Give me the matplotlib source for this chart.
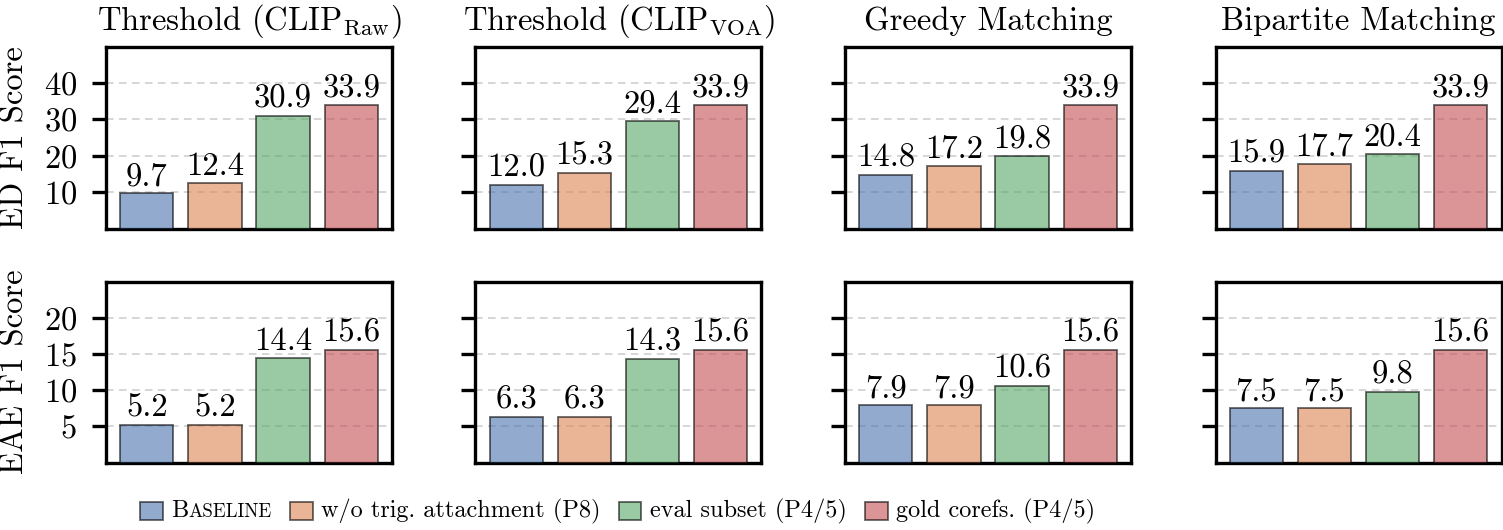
import numpy as np
import matplotlib
matplotlib.use("Agg")
import matplotlib.pyplot as plt
from matplotlib.offsetbox import HPacker, TextArea, DrawingArea, AnchoredOffsetbox
from matplotlib.patches import Rectangle

plt.rcParams['font.family'] = 'serif'
plt.rcParams['font.serif'] = ['cmr10', 'DejaVu Serif']
plt.rcParams['mathtext.fontset'] = 'cm'
plt.rcParams['axes.unicode_minus'] = False
plt.rcParams['axes.formatter.use_mathtext'] = True

# ---- data ----
methods = [r"Threshold (CLIP$_{\mathrm{Raw}}$)", r"Threshold (CLIP$_{\mathrm{VOA}}$)",
           "Greedy Matching", "Bipartite Matching"]
series = ["Baseline", "w/o trig. attachment (P8)", "eval subset (P4/5)", "gold corefs. (P4/5)"]
ed_raw = [9.7, 12.4, 30.9, 33.9]
ed_voa = [12.0, 15.3, 29.4, 33.9]
ed_greedy = [14.8, 17.2, 19.8, 33.9]
ed_bipartite = [15.9, 17.7, 20.4, 33.9]
eae_raw = [5.2, 5.2, 14.4, 15.6]
eae_voa = [6.3, 6.3, 14.3, 15.6]
eae_greedy = [7.9, 7.9, 10.6, 15.6]
eae_bipartite = [7.5, 7.5, 9.8, 15.6]
ed_ticks = [10, 20, 30, 40]
eae_ticks = [5, 10, 15, 20]
row_labels = ["ED F1 Score", "EAE F1 Score"]

colors = ["#4C72B0", "#DD8452", "#55A868", "#C44E52"]
ALPHA = 0.6
FS = 23.5

rows = [[ed_raw, ed_voa, ed_greedy, ed_bipartite],
        [eae_raw, eae_voa, eae_greedy, eae_bipartite]]
ylims = [(0, 50), (0, 25)]
yticks = [ed_ticks, eae_ticks]

W, H = 1503, 530
fig = plt.figure(figsize=(W / 100, H / 100), dpi=100)

lefts = [106, 475.5, 845, 1215.5]
width = 286
row_box = [(46.5, 228.5), (281.7, 462.5)]

x = np.arange(4)
for r in range(2):
    top, bot = row_box[r]
    for c in range(4):
        ax = fig.add_axes([lefts[c] / W, 1 - bot / H, width / W, (bot - top) / H])
        vals = rows[r][c]
        ax.bar(x, vals, width=0.78, color=colors, alpha=ALPHA,
               edgecolor='black', linewidth=1.3, zorder=3)
        for xi, v in zip(x, vals):
            ax.annotate(f"{v:.1f}", (xi, v), xytext=(0, 1.5), textcoords='offset points',
                        ha='center', va='bottom', fontsize=FS, zorder=4)
        ax.set_xlim(-0.6, 3.6)
        ax.set_ylim(*ylims[r])
        ax.set_yticks(yticks[r])
        ax.set_xticks([])
        ax.grid(axis='y', linestyle=(0, (5, 3.5)), color='#cccccc', linewidth=1.1, zorder=0)
        ax.set_axisbelow(True)
        for s in ax.spines.values():
            s.set_linewidth(2.4)
            s.set_color('black')
        ax.tick_params(axis='y', length=10, width=2.4, pad=11, labelsize=FS)
        if c > 0:
            ax.tick_params(axis='y', labelleft=False)
        else:
            ax.set_ylabel(row_labels[r], fontsize=FS, labelpad=10)
        if r == 0:
            ax.set_title(methods[c], fontsize=FS, pad=12)

# ---- legend (manual, with small caps for Baseline) ----
LFS = 17.5
items = []
for i, (lab, col) in enumerate(zip(series, colors)):
    da = DrawingArea(16.5, 13.5, 0, 0)
    da.add_artist(Rectangle((0, 0), 16.5, 13.5, facecolor=col, edgecolor='black',
                            alpha=ALPHA, linewidth=1.3))
    if i == 0:
        txt = HPacker(children=[TextArea("B", textprops=dict(fontsize=LFS)),
                                TextArea("ASELINE", textprops=dict(fontsize=LFS * 0.78))],
                      sep=0, pad=0, align='baseline')
    else:
        txt = TextArea(lab, textprops=dict(fontsize=LFS))
    items.append(HPacker(children=[da, txt], sep=6, pad=0, align='center'))
legend_box = HPacker(children=items, sep=13, pad=0, align='center')
anch = AnchoredOffsetbox(loc='center', child=legend_box, pad=0, frameon=False,
                         bbox_to_anchor=(617.5 / W, 1 - 511 / H),
                         bbox_transform=fig.transFigure, borderpad=0)
fig.add_artist(anch)

fig.savefig("out.png", dpi=100)
